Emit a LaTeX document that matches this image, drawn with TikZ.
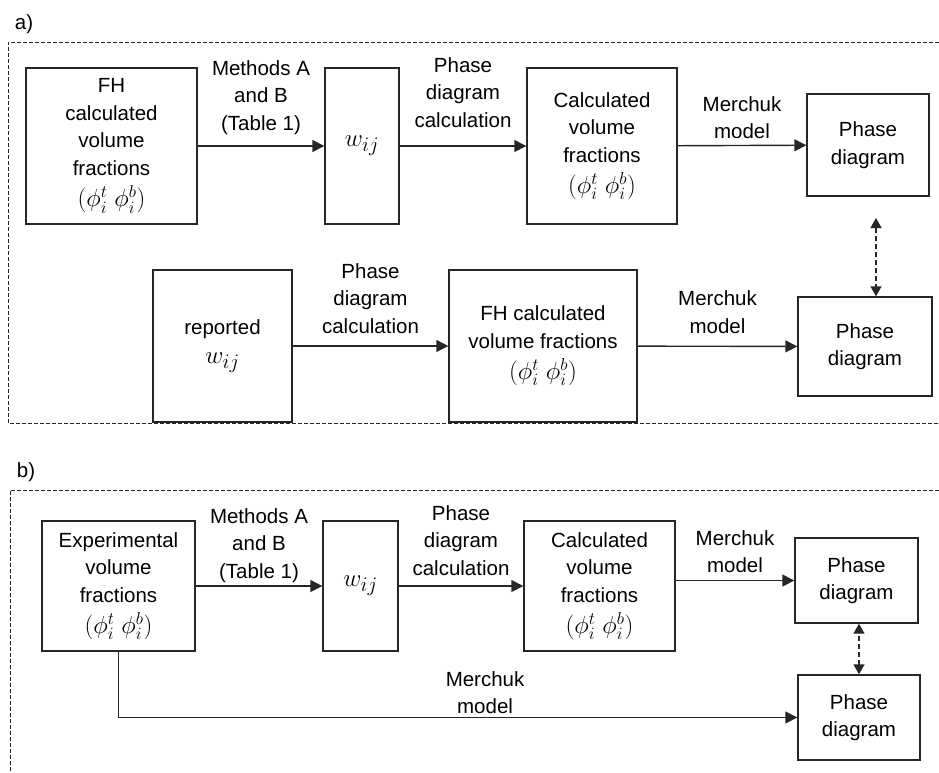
\documentclass[tikz,border=0pt]{standalone}
\usepackage{fontspec}
\setmainfont{Liberation Sans}
\usetikzlibrary{arrows.meta}
\newcommand{\phipair}{{\fontsize{24}{27.5}\selectfont$(\phi_i^t\;\phi_i^b)$}}
\newcommand{\wij}{{\fontsize{24.88}{27.5}\selectfont$w_{ij}$}}

\begin{document}
\begin{tikzpicture}[x=1pt, y=-1pt, font=\fontsize{20.5}{27.5}\selectfont,
  box/.style={draw=black!85, line width=1.4pt, align=center, inner sep=0pt},
  lbl/.style={align=center, inner sep=3pt},
  arr/.style={draw=black!85, line width=1.4pt, -{Triangle[length=12pt, width=12pt]}},
  dd/.style={draw=black!85, line width=1.4pt, dash pattern=on 5pt off 3pt,
    {Triangle[length=10pt, width=11pt]}-{Triangle[length=10pt, width=11pt]}},
  frame/.style={draw=black!85, line width=1pt, dash pattern=on 4pt off 2pt}]
\useasboundingbox (0,0) rectangle (939,772);

% panel a
\node (la) at (24,24) {a)};
\draw[frame] (939,42) -- (8,42) -- (8,423) -- (939,423);
\node[box, minimum width=171pt, minimum height=156pt] (fha) at (111.5,146) {FH\\calculated\\volume\\fractions\\[4pt]\phipair};
\node[box, minimum width=74pt, minimum height=156pt] (wa) at (362,146) {\wij};
\node[box, minimum width=150pt, minimum height=156pt] (calca) at (602,146) {Calculated\\volume\\fractions\\[4pt]\phipair};
\node[box, minimum width=122pt, minimum height=102pt] (pdtopa) at (868,145) {Phase\\diagram};
\node[box, minimum width=139pt, minimum height=152pt] (repa) at (222.5,346) {reported\\[2pt]\wij};
\node[box, minimum width=188pt, minimum height=152pt] (fhrowa) at (543,346) {FH calculated\\volume fractions\\[4pt]\phipair};
\node[box, minimum width=134pt, minimum height=99pt] (pdlowa) at (865,346.5) {Phase\\diagram};
\coordinate (dda) at (876,218);
\draw[arr] (fha) -- node[lbl, above=8pt] (mab) {Methods A\\and B\\(Table 1)} (wa);
\draw[arr] (wa) -- node[lbl, above=15pt] (pca) {Phase\\diagram\\calculation} (calca);
\draw[arr] (calca) -- node[lbl, above=3pt] (mma) {Merchuk\\model} (pdtopa);
\draw[arr] (repa) -- node[lbl, above=9pt] (pcra) {Phase\\diagram\\calculation} (fhrowa);
\draw[arr] (fhrowa) -- node[lbl, above=9pt] (mmra) {Merchuk\\model} (pdlowa);
\draw[dd] (dda) -- (dda |- pdlowa.north);

% panel b
\node (lb) at (26,472) {b)};
\draw[frame] (939,490) -- (10,490) -- (10,772);
\node[box, minimum width=153pt, minimum height=130pt] (expb) at (118.5,586) {Experimental\\volume\\fractions\\[4pt]\phipair};
\node[box, minimum width=75pt, minimum height=130pt] (wb) at (360.5,586) {\wij};
\node[box, minimum width=151pt, minimum height=130pt] (calcb) at (599.5,586) {Calculated\\volume\\fractions\\[4pt]\phipair};
\node[box, minimum width=123pt, minimum height=85pt] (pdtopb) at (856.5,580.5) {Phase\\diagram};
\node[box, minimum width=122pt, minimum height=85pt] (pdlowb) at (859,717.5) {Phase\\diagram};
\draw[arr] (expb) -- node[lbl, above=0pt] (mbb) {Methods A\\and B\\(Table 1)} (wb);
\draw[arr] (wb) -- node[lbl, above=7pt] (pcb) {Phase\\diagram\\calculation} (calcb);
\draw[arr] (calcb.east |- pdtopb.west) -- node[lbl, above=4pt] (mmb) {Merchuk\\model} (pdtopb.west);
\draw[arr] (expb.south) |- node[lbl, pos=0.77, above=0pt] (mmlb) {Merchuk\\model} (pdlowb.west);
\draw[dd] (pdlowb.north) -- (pdlowb.north |- pdtopb.south);
\end{tikzpicture}
\end{document}
